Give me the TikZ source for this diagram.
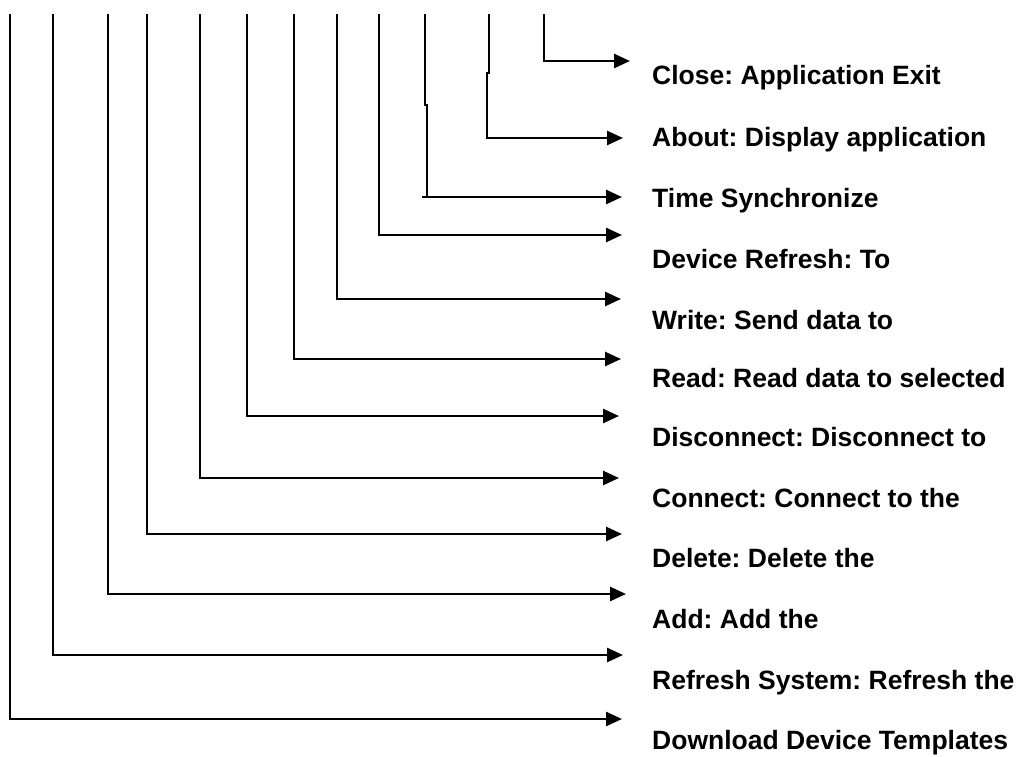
\documentclass[tikz,border=0pt]{standalone}
\usepackage{fontspec}
\setmainfont{Liberation Sans}
\usetikzlibrary{arrows.meta}
\begin{document}
\begin{tikzpicture}[x=1pt,y=-1pt,
  conn/.style={line width=2.6pt,-{Triangle[length=16pt,width=14pt]}},
  lbl/.style={anchor=base west,inner sep=0pt,font=\frenchspacing\fontsize{26.5}{30}\selectfont\bfseries}]
\useasboundingbox (0,0) rectangle (1019,756);
% labels
\node[lbl] (close) at (652,84) {Close: Application Exit};
\node[lbl] (about) at (652,146) {About: Display application};
\node[lbl] (time)  at (652,207) {Time Synchronize};
\node[lbl] (devref) at (652,268) {Device Refresh: To};
\node[lbl] (write) at (652,329) {Write: Send data to};
\node[lbl] (read)  at (652,387) {Read: Read data to selected};
\node[lbl] (disc)  at (652,446) {Disconnect: Disconnect to};
\node[lbl] (conn)  at (652,507) {Connect: Connect to the};
\node[lbl] (del)   at (652,567) {Delete: Delete the};
\node[lbl] (add)   at (652,628) {Add: Add the};
\node[lbl] (refr)  at (652,689) {Refresh System: Refresh the};
\node[lbl] (down)  at (652,749) {Download Device Templates};
% coordinates
\coordinate (t1) at (544,14);  \coordinate (e1) at (630,61);
\coordinate (t2) at (489,14);  \coordinate (e2) at (623,138);
\coordinate (t3) at (425,14);  \coordinate (e3) at (622,197);
\coordinate (t4) at (379,14);  \coordinate (e4) at (622,235);
\coordinate (t5) at (337,14);  \coordinate (e5) at (621,299);
\coordinate (t6) at (294,14);  \coordinate (e6) at (621,359);
\coordinate (t7) at (247,14);  \coordinate (e7) at (619,416);
\coordinate (t8) at (200,14);  \coordinate (e8) at (619,478);
\coordinate (t9) at (147,14);  \coordinate (e9) at (622,534);
\coordinate (t10) at (108,14); \coordinate (e10) at (626,594);
\coordinate (t11) at (53,14);  \coordinate (e11) at (623,655);
\coordinate (t12) at (10,14);  \coordinate (e12) at (622,719);
% connectors
\draw[conn] (t1) |- (e1);
\draw[conn] (t2) -- (489,73) -- (487,73) |- (e2);
\draw[conn] (t3) -- (425,105) -- (427,105) -- (427,197) -- (422,197) -- (e3);
\draw[conn] (t4) |- (e4);
\draw[conn] (t5) |- (e5);
\draw[conn] (t6) |- (e6);
\draw[conn] (t7) |- (e7);
\draw[conn] (t8) |- (e8);
\draw[conn] (t9) |- (e9);
\draw[conn] (t10) |- (e10);
\draw[conn] (t11) |- (e11);
\draw[conn] (t12) |- (e12);
\end{tikzpicture}
\end{document}
